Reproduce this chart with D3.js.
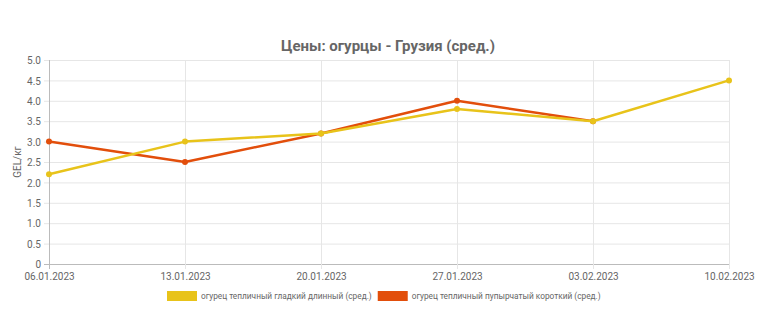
<!DOCTYPE html>
<html>
<head>
<meta charset="utf-8">
<script src="https://cdn.jsdelivr.net/npm/d3@7"></script>
<style>
  html, body { margin: 0; padding: 0; background: #fff; }
  svg { display: block; font-family: Roboto, "Noto Sans", sans-serif; }
</style>
</head>
<body>
<svg id="chart" width="776" height="330"></svg>
<script>
// Weekly average prices, GEL per kg
const dates = ["06.01.2023", "13.01.2023", "20.01.2023", "27.01.2023", "03.02.2023", "10.02.2023"];
const smoothLong = [2.2, 3.0, 3.2, 3.8, 3.5, 4.5];
const bumpyShort = [3.0, 2.5, 3.2, 4.0, 3.5, null];
const yTicks = [0, 0.5, 1.0, 1.5, 2.0, 2.5, 3.0, 3.5, 4.0, 4.5, 5.0];
const seriesNames = ["огурец тепличный гладкий длинный (сред.)", "огурец тепличный пупырчатый короткий (сред.)"];
const seriesColors = ["#e8c31a", "#e24e0b"];

const series = [
  { name: seriesNames[0], color: seriesColors[0], values: smoothLong },
  { name: seriesNames[1], color: seriesColors[1], values: bumpyShort }
];

const svg = d3.select("#chart");
const m = { left: 49, right: 47, top: 60, bottom: 66 };
const W = 776, H = 330;

const x = d3.scalePoint().domain(dates).range([m.left, W - m.right]);
const y = d3.scaleLinear().domain([0, 5]).range([H - m.bottom, m.top]);

// title
svg.append("text")
  .attr("x", 388).attr("y", 51)
  .attr("text-anchor", "middle")
  .attr("font-size", 15).attr("font-weight", "bold")
  .attr("fill", "#666")
  .text("Цены: огурцы - Грузия (сред.)");

// gridlines
const grid = svg.append("g");
grid.selectAll(".hg").data(yTicks).join("line")
  .attr("x1", m.left - 5).attr("x2", W - m.right)
  .attr("y1", d => y(d) + 0.5).attr("y2", d => y(d) + 0.5)
  .attr("stroke", d => d === 0 ? "#bbb" : "#e6e6e6").attr("stroke-width", 1);
grid.selectAll(".vg").data(dates).join("line")
  .attr("x1", d => x(d) + 0.5).attr("x2", d => x(d) + 0.5)
  .attr("y1", m.top).attr("y2", H - m.bottom + 5)
  .attr("stroke", (d, i) => i === 0 ? "#bbb" : "#e6e6e6").attr("stroke-width", 1);

// y axis labels
const yAxis = d3.axisLeft(y).tickValues(yTicks)
  .tickFormat(d => d === 0 ? "0" : d3.format(".1f")(d))
  .tickSize(0).tickPadding(8);
svg.append("g").attr("transform", `translate(${m.left},0.5)`).call(yAxis)
  .call(g => g.select(".domain").remove())
  .call(g => g.selectAll("text").attr("fill", "#666").attr("font-size", 10).attr("font-family", "Roboto, sans-serif"));

// x axis labels
const xAxis = d3.axisBottom(x).tickSize(0).tickPadding(9);
svg.append("g").attr("transform", `translate(0,${H - m.bottom})`).call(xAxis)
  .call(g => g.select(".domain").remove())
  .call(g => g.selectAll("text").attr("fill", "#666").attr("font-size", 10).attr("font-family", "Roboto, sans-serif"));

// y axis title
svg.append("text")
  .attr("transform", `translate(21,${(m.top + H - m.bottom) / 2}) rotate(-90)`)
  .attr("text-anchor", "middle")
  .attr("font-size", 10).attr("fill", "#666")
  .text("GEL/кг");

// lines (first series drawn on top)
const line = d3.line().defined(d => d.v != null).x(d => x(d.date)).y(d => y(d.v));
series.slice().reverse().forEach(s => {
  const pts = dates.map((date, i) => ({ date, v: s.values[i] }));
  const g = svg.append("g");
  g.append("path").datum(pts)
    .attr("d", line).attr("fill", "none")
    .attr("stroke", s.color).attr("stroke-width", 2.5)
    .attr("stroke-linejoin", "round");
  g.selectAll("circle").data(pts.filter(d => d.v != null)).join("circle")
    .attr("cx", d => x(d.date)).attr("cy", d => y(d.v))
    .attr("r", 3).attr("fill", s.color);
});

// legend: boxes followed by labels, laid out left to right
const legend = svg.append("g").attr("font-size", 8.3).attr("fill", "#666");
let lx = 167;
series.forEach(s => {
  const lg = legend.append("g").attr("transform", `translate(${lx},291)`);
  lg.append("rect").attr("width", 30).attr("height", 10).attr("fill", s.color);
  const t = lg.append("text").attr("x", 34).attr("y", 8.3).attr("fill", "#666").text(s.name);
  lx += 34 + t.node().getComputedTextLength() + 6;
});
</script>
</body>
</html>
